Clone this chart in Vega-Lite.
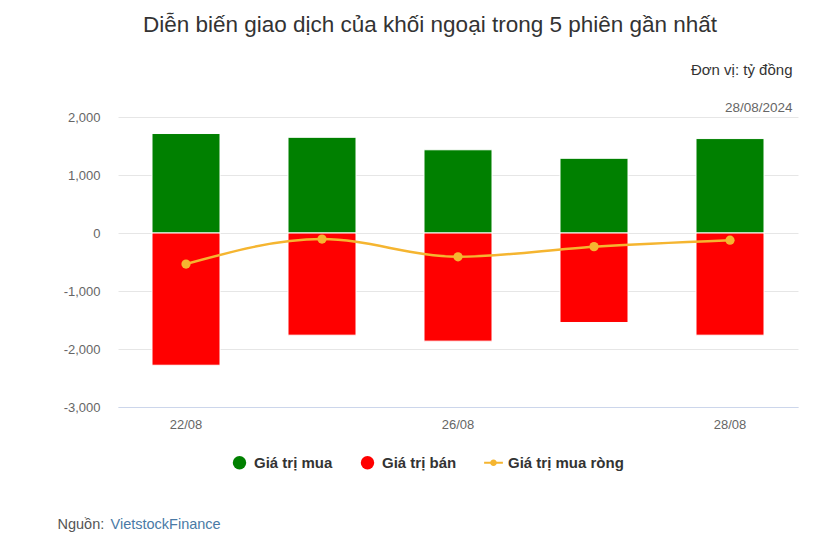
{
  "$schema": "https://vega.github.io/schema/vega-lite/v6.json",
  "autosize": "none",
  "width": 680,
  "height": 290,
  "padding": {"left": 118, "top": 117, "right": 39, "bottom": 140},
  "background": "white",
  "config": {
    "font": "Liberation Sans",
    "view": {"stroke": null}
  },
  "title": {
    "text": "Diễn biến giao dịch của khối ngoại trong 5 phiên gần nhất",
    "fontSize": 22.5,
    "fontWeight": "normal",
    "color": "#333333",
    "anchor": "middle",
    "dx": -28,
    "offset": 26
  },
  "data": {
    "values": [
      {"date": "22/08", "series": "Giá trị mua", "value": 1715},
      {"date": "23/08", "series": "Giá trị mua", "value": 1650},
      {"date": "26/08", "series": "Giá trị mua", "value": 1435},
      {"date": "27/08", "series": "Giá trị mua", "value": 1288},
      {"date": "28/08", "series": "Giá trị mua", "value": 1628},
      {"date": "22/08", "series": "Giá trị bán", "value": -2280},
      {"date": "23/08", "series": "Giá trị bán", "value": -1762},
      {"date": "26/08", "series": "Giá trị bán", "value": -1865},
      {"date": "27/08", "series": "Giá trị bán", "value": -1543},
      {"date": "28/08", "series": "Giá trị bán", "value": -1762},
      {"date": "22/08", "series": "Giá trị mua ròng", "value": -535},
      {"date": "23/08", "series": "Giá trị mua ròng", "value": -105},
      {"date": "26/08", "series": "Giá trị mua ròng", "value": -410},
      {"date": "27/08", "series": "Giá trị mua ròng", "value": -235},
      {"date": "28/08", "series": "Giá trị mua ròng", "value": -124}
    ]
  },
  "encoding": {
    "x": {
      "field": "date",
      "type": "ordinal",
      "sort": null,
      "scale": {"paddingInner": 0.5, "paddingOuter": 0.25}
    },
    "y": {
      "field": "value",
      "type": "quantitative",
      "scale": {"domain": [-3000, 2000], "nice": false, "zero": false}
    },
    "color": {
      "field": "series",
      "type": "nominal",
      "scale": {
        "domain": ["Giá trị mua", "Giá trị bán", "Giá trị mua ròng"],
        "range": ["#008000", "#ff0000", "#f5b530"]
      },
      "legend": {
        "orient": "none",
        "legendX": 114,
        "legendY": 338,
        "direction": "horizontal",
        "title": null,
        "padding": 0,
        "symbolSize": 180,
        "symbolType": "circle",
        "symbolOpacity": 1,
        "symbolStrokeWidth": 0,
        "labelFont": "Liberation Sans",
        "labelFontSize": 15,
        "labelFontWeight": "bold",
        "labelColor": "#333333",
        "labelOffset": 7,
        "columnPadding": 27,
        "encode": {
          "symbols": {
            "update": {
              "shape": {"signal": "datum.label === 'Giá trị mua ròng' ? 'M-1.4,-0.15H1.4V0.15H-1.4Z M0.5,0A0.5,0.5,0,1,1,-0.5,0A0.5,0.5,0,1,1,0.5,0Z' : 'circle'"},
              "fill": {"scale": "color", "field": "value"},
              "stroke": {"value": "transparent"},
              "opacity": {"value": 1}
            }
          }
        }
      }
    }
  },
  "layer": [
    {
      "transform": [{"filter": "datum.series !== 'Giá trị mua ròng'"}],
      "mark": {"type": "bar", "stroke": "white", "strokeWidth": 1},
      "encoding": {
        "x": {
          "field": "date",
          "type": "ordinal",
          "sort": null,
          "axis": {
            "orient": "bottom",
            "labelExpr": "datum.value === '23/08' || datum.value === '27/08' ? '' : datum.label",
            "labelAngle": 0,
            "labelColor": "#666666",
            "labelFontSize": 13,
            "labelPadding": 11,
            "ticks": false,
            "domainColor": "#ccd6eb",
            "domainWidth": 1,
            "title": "Nguồn:",
            "titleFontSize": 14.5,
            "titleFontWeight": "normal",
            "titleColor": "#555555",
            "titleAlign": "left",
            "titleAnchor": "start",
            "titleBaseline": "alphabetic",
            "titleX": -61,
            "titleY": 121
          }
        },
        "y": {
          "field": "value",
          "type": "quantitative",
          "axis": {
            "values": [-3000, -2000, -1000, 0, 1000, 2000],
            "format": ",.0f",
            "labelExpr": "replace(datum.label, '\u2212', '-')",
            "labelColor": "#666666",
            "labelFontSize": 13,
            "labelPadding": 18,
            "ticks": false,
            "domain": false,
            "gridColor": "#e6e6e6",
            "title": "Đơn vị: tỷ đồng",
            "titleAngle": 0,
            "titleFontSize": 15,
            "titleFontWeight": "normal",
            "titleColor": "#333333",
            "titleAlign": "right",
            "titleBaseline": "alphabetic",
            "titleX": 674,
            "titleY": -43
          }
        }
      }
    },
    {
      "transform": [{"filter": "datum.series === 'Giá trị mua ròng'"}],
      "mark": {
        "type": "line",
        "interpolate": "monotone",
        "strokeWidth": 2.5,
        "point": {"filled": true, "size": 85}
      },
      "encoding": {
        "x": {
          "field": "date",
          "type": "ordinal",
          "sort": null,
          "axis": {
            "orient": "top",
            "labels": false,
            "ticks": false,
            "domain": false,
            "grid": false,
            "title": "VietstockFinance",
            "titleFontSize": 14.5,
            "titleFontWeight": "normal",
            "titleColor": "#4a7aa6",
            "titleAlign": "left",
            "titleAnchor": "start",
            "titleBaseline": "alphabetic",
            "titleX": -8,
            "titleY": 411
          }
        },
        "y": {
          "field": "value",
          "type": "quantitative",
          "axis": {
            "orient": "right",
            "labels": false,
            "ticks": false,
            "domain": false,
            "grid": false,
            "title": "28/08/2024",
            "titleAngle": 0,
            "titleFontSize": 13.5,
            "titleFontWeight": "normal",
            "titleColor": "#666666",
            "titleAlign": "right",
            "titleBaseline": "alphabetic",
            "titleX": -6,
            "titleY": -6
          }
        }
      }
    }
  ],
  "resolve": {"axis": {"x": "independent", "y": "independent"}}
}
